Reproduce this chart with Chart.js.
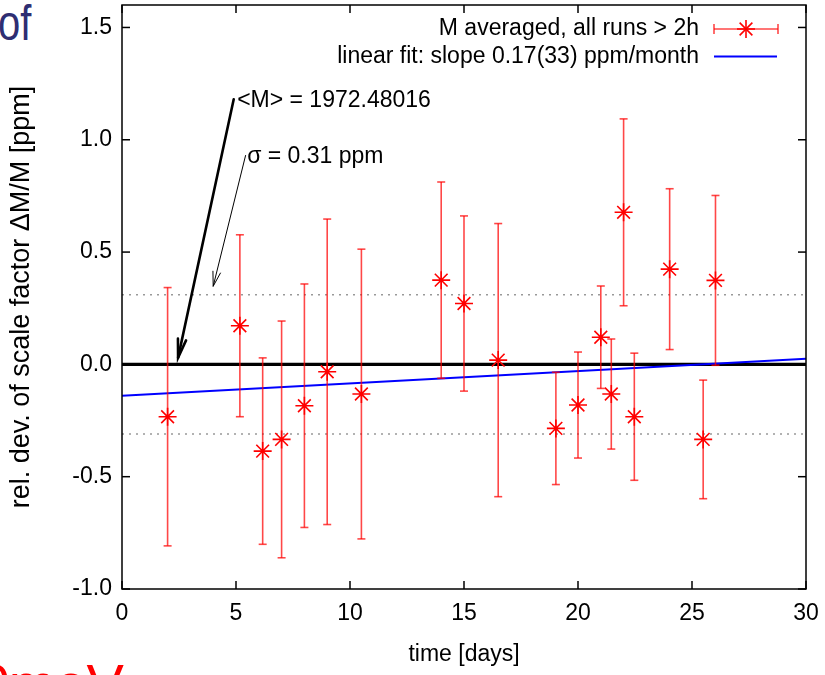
<!DOCTYPE html>
<html><head><meta charset="utf-8">
<script src="https://cdn.jsdelivr.net/npm/chart.js@4.4.1/dist/chart.umd.min.js"></script>
<style>
html,body{margin:0;padding:0;background:#fff;width:825px;height:675px;overflow:hidden;}
#wrap{position:relative;width:825px;height:675px;}
canvas{position:absolute;left:0;top:0;}
.frag{position:absolute;font-family:'Liberation Sans',Arial,sans-serif;white-space:nowrap;line-height:1;transform-origin:left top;}
#of{left:-2px;top:-2px;font-size:50px;color:#2e2e72;transform:scaleX(0.8);}
#mev{left:-21px;top:656px;font-size:56px;color:#ff0000;word-spacing:-17px;}
</style></head><body>
<div id="wrap">
<div class="frag" id="of">of</div>
<div class="frag" id="mev">0 meV</div>
<canvas id="c" width="825" height="675"></canvas>
</div>
<script>
// ---- data ----
const days   = [2.0, 5.17, 6.17, 7.0, 8.0, 9.0, 10.5, 14.0, 15.0, 16.5, 19.03, 20.0, 21.0, 21.46, 22.0, 22.47, 24.02, 25.49, 26.03];
const values = [-0.233, 0.172, -0.386, -0.334, -0.184, -0.033, -0.132, 0.375, 0.271, 0.019, -0.285, -0.181, 0.121, -0.132, 0.677, -0.233, 0.424, -0.334, 0.374];
const errors = [0.575, 0.405, 0.415, 0.527, 0.542, 0.68, 0.645, 0.437, 0.39, 0.608, 0.25, 0.236, 0.228, 0.245, 0.416, 0.283, 0.358, 0.264, 0.378];
const fitX = [0, 30];
const fitY = [-0.14, 0.025];
const sigma = 0.31;
const xTicks = [0, 5, 10, 15, 20, 25, 30];
const yTicks = [-1.0, -0.5, 0.0, 0.5, 1.0, 1.5];
const seriesLabels = ['M averaged, all runs > 2h', 'linear fit: slope 0.17(33) ppm/month'];
const meanText = '<M> = 1972.48016';
const sigmaText = '\u03C3 = 0.31 ppm';

const FONT = "'Liberation Sans', Arial, Helvetica, sans-serif";
const FS = 23;
const AREA_TOP = 5;

function line(ctx, x1, y1, x2, y2) { ctx.beginPath(); ctx.moveTo(x1, y1); ctx.lineTo(x2, y2); ctx.stroke(); }
function star(ctx, x, y, r) {
  const d = r * Math.SQRT1_2;
  line(ctx, x - r, y, x + r, y); line(ctx, x, y - r, x, y + r);
  line(ctx, x - d, y - d, x + d, y + d); line(ctx, x - d, y + d, x + d, y - d);
}
function arrow(ctx, x1, y1, x2, y2, len, ang, w) {
  ctx.lineWidth = w;
  line(ctx, x1, y1, x2, y2);
  const a = Math.atan2(y1 - y2, x1 - x2);
  ctx.beginPath();
  ctx.moveTo(x2 + len * Math.cos(a + ang), y2 + len * Math.sin(a + ang));
  ctx.lineTo(x2, y2);
  ctx.lineTo(x2 + len * Math.cos(a - ang), y2 + len * Math.sin(a - ang));
  ctx.stroke();
}

// pin the top of the plotting area (gnuplot-like tight frame)
const pinArea = {
  id: 'pinArea',
  afterLayout(chart) {
    const ys = chart.scales.y;
    ys.top = AREA_TOP;
    ys.height = ys.bottom - ys.top;
    ys.configure();
    const a = chart.chartArea;
    a.top = AREA_TOP;
    a.height = a.bottom - a.top;
  }
};

const errorBars = {
  id: 'errorBars',
  beforeDatasetDraw(chart, args) {
    if (args.index !== 0) return;
    const { ctx, scales: { x, y } } = chart;
    ctx.save();
    ctx.strokeStyle = 'rgba(255,0,0,0.72)';
    ctx.lineWidth = 1.6;
    for (let i = 0; i < days.length; i++) {
      const px = x.getPixelForValue(days[i]);
      const t = y.getPixelForValue(values[i] + errors[i]);
      const b = y.getPixelForValue(values[i] - errors[i]);
      line(ctx, px, t, px, b);
      line(ctx, px - 4, t, px + 4, t);
      line(ctx, px - 4, b, px + 4, b);
    }
    ctx.restore();
  }
};

const frame = {
  id: 'frame',
  afterDatasetsDraw(chart) {
    const { ctx, chartArea: a, scales: { x, y } } = chart;
    ctx.save();
    ctx.strokeStyle = '#000';
    ctx.lineWidth = 1.5;
    ctx.strokeRect(a.left, a.top, a.right - a.left, a.bottom - a.top);
    const tl = 8;
    xTicks.forEach(v => {
      const px = x.getPixelForValue(v);
      line(ctx, px, a.bottom, px, a.bottom - tl);
      line(ctx, px, a.top, px, a.top + tl);
    });
    yTicks.forEach(v => {
      const py = y.getPixelForValue(v);
      line(ctx, a.left, py, a.left + tl, py);
      line(ctx, a.right, py, a.right - tl, py);
    });
    ctx.restore();
  }
};

const notes = {
  id: 'notes',
  afterDatasetsDraw(chart) {
    const { ctx, scales: { x, y } } = chart;
    ctx.save();
    ctx.strokeStyle = '#000';
    ctx.lineCap = 'round';
    arrow(ctx, x.getPixelForValue(4.9), y.getPixelForValue(1.18), x.getPixelForValue(2.46), y.getPixelForValue(0.03), 19, 0.22, 2.6);
    arrow(ctx, x.getPixelForValue(5.42), y.getPixelForValue(0.93), x.getPixelForValue(4.0), y.getPixelForValue(0.348), 15, 0.26, 1);
    ctx.fillStyle = '#000';
    ctx.font = FS + 'px ' + FONT;
    ctx.textAlign = 'left';
    ctx.textBaseline = 'alphabetic';
    ctx.fillText(meanText, x.getPixelForValue(5.05), y.getPixelForValue(1.146));
    ctx.fillText(sigmaText, x.getPixelForValue(5.49), y.getPixelForValue(0.897));
    ctx.restore();
  }
};

const gnuLegend = {
  id: 'gnuLegend',
  afterDraw(chart) {
    const { ctx } = chart;
    ctx.save();
    ctx.font = FS + 'px ' + FONT;
    ctx.fillStyle = '#000';
    ctx.textAlign = 'right';
    ctx.textBaseline = 'middle';
    const tx = 699, y1 = 29, y2 = 56.5;
    ctx.fillText(seriesLabels[0], tx, y1);
    ctx.fillText(seriesLabels[1], tx, y2);
    ctx.strokeStyle = 'rgba(255,0,0,0.72)';
    ctx.lineWidth = 1.6;
    line(ctx, 714, y1, 778, y1);
    line(ctx, 714, y1 - 5, 714, y1 + 5);
    line(ctx, 778, y1 - 5, 778, y1 + 5);
    ctx.strokeStyle = '#ff0000';
    star(ctx, 746, y1, 9);
    ctx.strokeStyle = '#0000ff';
    ctx.lineWidth = 2;
    line(ctx, 714, y2, 777, y2);
    ctx.restore();
  }
};

const hline = v => fitX.map(xv => ({ x: xv, y: v }));

new Chart(document.getElementById('c'), {
  type: 'scatter',
  data: {
    datasets: [
      { label: seriesLabels[0], data: days.map((d, i) => ({ x: d, y: values[i] })),
        pointStyle: 'star', pointRadius: 9, pointHoverRadius: 9, borderColor: '#ff0000', backgroundColor: '#ff0000',
        pointBorderWidth: 1.6, showLine: false, order: 0 },
      { label: seriesLabels[1], type: 'line', data: fitX.map((v, i) => ({ x: v, y: fitY[i] })),
        borderColor: '#0000ff', borderWidth: 2, pointRadius: 0, fill: false, order: 1 },
      { label: 'mean', type: 'line', data: hline(0), borderColor: '#000', borderWidth: 3.4, pointRadius: 0, fill: false, order: 2 },
      { label: '+sigma', type: 'line', data: hline(sigma), borderColor: '#999', borderWidth: 1.6, borderDash: [2, 5], pointRadius: 0, fill: false, order: 3 },
      { label: '-sigma', type: 'line', data: hline(-sigma), borderColor: '#999', borderWidth: 1.6, borderDash: [2, 5], pointRadius: 0, fill: false, order: 3 }
    ]
  },
  options: {
    responsive: false, animation: false, devicePixelRatio: 1,
    layout: { padding: { left: 0, right: 19, top: 5, bottom: 0 } },
    plugins: { legend: { display: false }, tooltip: { enabled: false } },
    scales: {
      x: {
        type: 'linear', min: 0, max: 30,
        grid: { display: false }, border: { display: false },
        afterBuildTicks: s => { s.ticks = xTicks.map(v => ({ value: v })); },
        afterFit: s => { s.height = 86; s.paddingLeft = 0; s.paddingRight = 0; },
        ticks: { color: '#000', font: { family: FONT, size: FS }, padding: 3, maxRotation: 0, autoSkip: false, callback: v => String(v) },
        title: { display: true, text: 'time [days]', color: '#000', font: { family: FONT, size: FS }, padding: { top: 0, bottom: 7 } }
      },
      y: {
        type: 'linear', min: -1, max: 1.6,
        grid: { display: false }, border: { display: false },
        afterBuildTicks: s => { s.ticks = yTicks.map(v => ({ value: v })); },
        afterFit: s => { s.width = 122; s.paddingTop = 0; s.paddingBottom = 0; },
        ticks: { color: '#000', font: { family: FONT, size: FS }, padding: 2, autoSkip: false, callback: v => Number(v).toFixed(1) },
        title: { display: true, text: 'rel. dev. of scale factor \u0394M/M [ppm]', color: '#000', font: { family: FONT, size: 27 }, padding: { top: 5, bottom: 0 } }
      }
    }
  },
  plugins: [pinArea, errorBars, frame, notes, gnuLegend]
});
</script>
</body></html>
